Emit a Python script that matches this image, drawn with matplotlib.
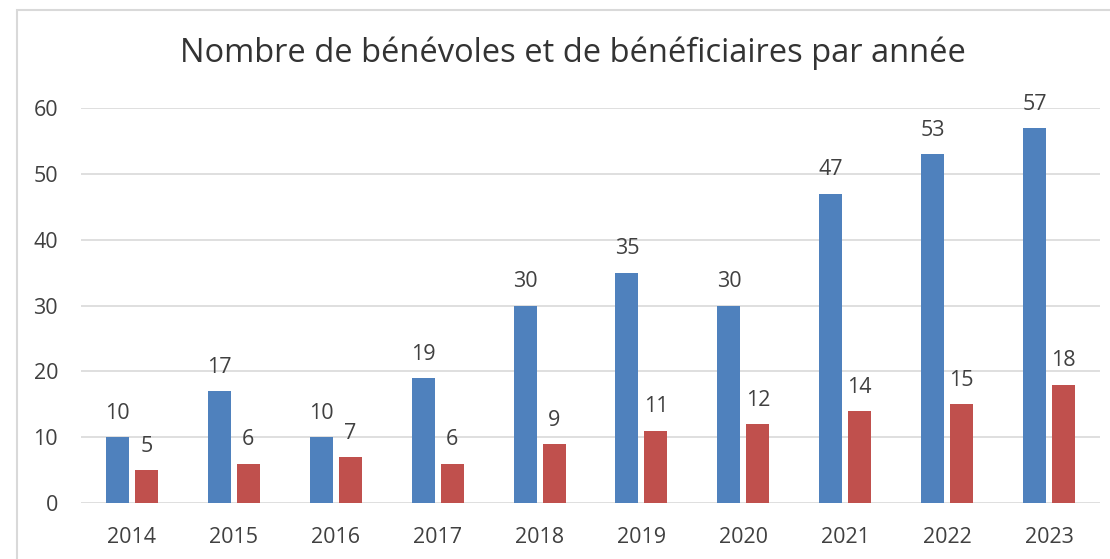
import matplotlib
matplotlib.use("Agg")
import matplotlib.pyplot as plt
import numpy as np
from matplotlib.patches import Rectangle

years = ["2014", "2015", "2016", "2017", "2018", "2019", "2020", "2021", "2022", "2023"]
benevoles = [10, 17, 10, 19, 30, 35, 30, 47, 53, 57]
beneficiaires = [5, 6, 7, 6, 9, 11, 12, 14, 15, 18]
yticks = [0, 10, 20, 30, 40, 50, 60]
title = "Nombre de bénévoles et de bénéficiaires par année"

W, H = 1110, 559
fig = plt.figure(figsize=(W / 100, H / 100), dpi=100)
plt.rcParams['font.family'] = ['Open Sans', 'DejaVu Sans']
txt = "#404040"

# chart border (extends past the cropped image edges)
fig.patches.append(Rectangle((17 / W, -0.1), 1.2, 1 - 10 / H + 0.1,
                             transform=fig.transFigure, fill=False,
                             edgecolor="#D9D9D9", linewidth=1.5))

ax = fig.add_axes([81 / W, 1 - 503 / H, (1100 - 81) / W, (503 - 108) / H])
x = np.arange(len(years))
bw = 0.226
off = 0.142
b1 = ax.bar(x - off, benevoles, bw, color="#4F81BD", zorder=3)
b2 = ax.bar(x + off, beneficiaires, bw, color="#C0504D", zorder=3)
for bars in (b1, b2):
    ax.bar_label(bars, padding=9.5, fontsize=15.5, color=txt)

ax.set_xlim(-0.5, len(years) - 0.5)
ax.set_ylim(0, 60)
ax.set_yticks(yticks)
ax.set_yticklabels([str(v) for v in yticks], fontsize=15.5, color=txt)
ax.set_xticks(x)
ax.set_xticklabels(years, fontsize=15.5, color=txt)
ax.tick_params(axis="both", length=0)
ax.tick_params(axis="y", pad=16.5)
ax.tick_params(axis="x", pad=17)
ax.grid(axis="y", color="#D9D9D9", linewidth=1.2, zorder=0)
for s in ax.spines.values():
    s.set_visible(False)

fig.text(573 / W, 1 - 53 / H, title, ha="center", va="center", fontsize=23.5, color="#333333")

fig.savefig("out.png", dpi=100)
